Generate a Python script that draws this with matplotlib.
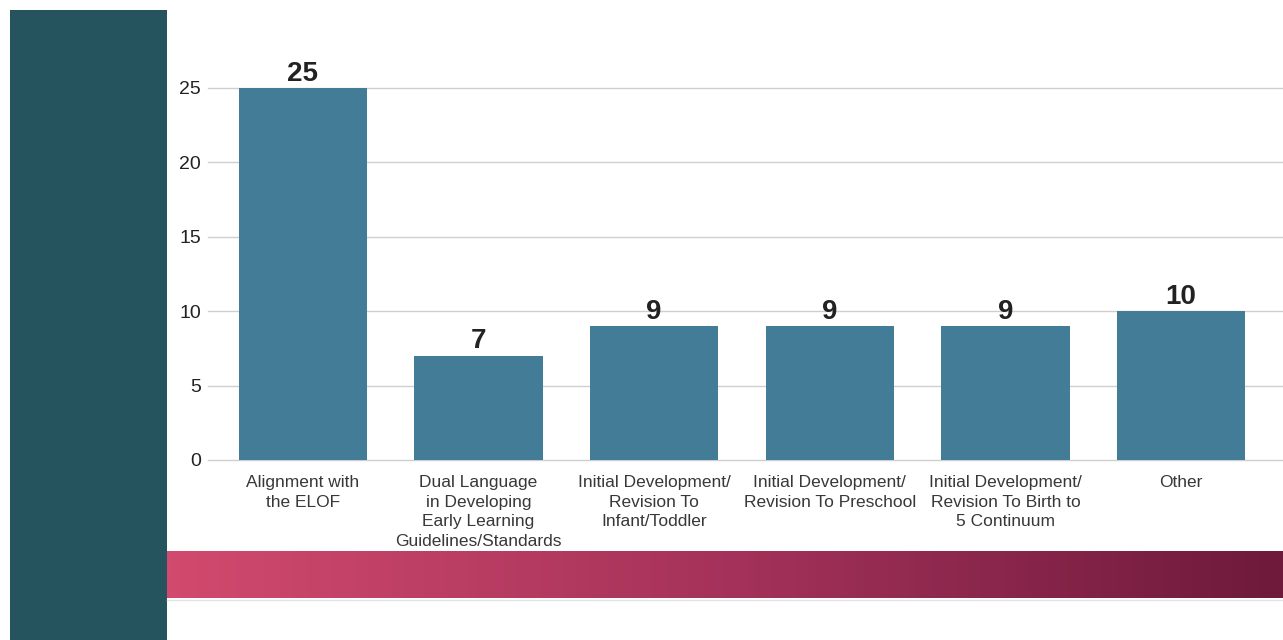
import matplotlib
matplotlib.use("Agg")
import matplotlib.pyplot as plt
import numpy as np
from matplotlib.patches import Rectangle
from matplotlib.colors import LinearSegmentedColormap

categories = [
    "Alignment with\nthe ELOF",
    "Dual Language\nin Developing\nEarly Learning\nGuidelines/Standards",
    "Initial Development/\nRevision To\nInfant/Toddler",
    "Initial Development/\nRevision To Preschool",
    "Initial Development/\nRevision To Birth to\n5 Continuum",
    "Other",
]
values = [25, 7, 9, 9, 9, 10]
yticks = [0, 5, 10, 15, 20, 25]

plt.rcParams['font.family'] = ['Liberation Sans', 'DejaVu Sans']

W, H = 1283, 640
fig = plt.figure(figsize=(W / 100, H / 100), dpi=100)
fig.patch.set_facecolor("white")

# left dark panel
fig.patches.append(Rectangle((10 / W, 0), 157 / W, 630 / H, transform=fig.transFigure,
                             facecolor="#25545f", edgecolor="none", zorder=0))

# gradient band
gax = fig.add_axes([167 / W, 1 - 598 / H, (W - 167) / W, 47 / H])
cmap = LinearSegmentedColormap.from_list("g", ["#d24a6e", "#a5325a", "#6e1a3b"])
gax.imshow(np.linspace(0, 1, 512).reshape(1, -1), aspect="auto", cmap=cmap,
           extent=[0, 1, 0, 1])
gax.set_axis_off()
fig.add_artist(plt.Line2D([167 / W, 1], [1 - 599.5 / H] * 2, transform=fig.transFigure,
                          color="#e2e2e6", lw=1))

# main axes
ax_left, ax_right = 208, 1283
ax_top, ax_bot = 88, 460
ax = fig.add_axes([ax_left / W, 1 - ax_bot / H, (ax_right - ax_left) / W, (ax_bot - ax_top) / H])
ax.set_facecolor("none")
x = np.arange(len(categories))
bars = ax.bar(x, values, width=0.73, color="#437c96", zorder=3)
ax.set_xlim(-0.54, len(categories) - 1 + 0.58)
ax.set_ylim(0, 25)
ax.set_yticks(yticks)
ax.set_yticklabels([str(t) for t in yticks], fontsize=14, color="#222222")
ax.tick_params(axis="y", length=0, pad=5)
ax.grid(axis="y", color="#cfcfcf", lw=1, zorder=0)
ax.set_axisbelow(True)
for s in ax.spines.values():
    s.set_visible(False)
ax.set_xticks(x)
ax.set_xticklabels(categories, fontsize=12.5, color="#383838", linespacing=1.38)
ax.tick_params(axis="x", length=0, pad=11)
for gl in ax.get_ygridlines():
    gl.set_clip_on(False)

for b, v in zip(bars, values):
    ax.text(b.get_x() + b.get_width() / 2, v + 0.1, str(v), ha="center", va="bottom",
            fontsize=20, fontweight="bold", color="#222222", clip_on=False)

fig.savefig("out.png", dpi=100, facecolor="white")
